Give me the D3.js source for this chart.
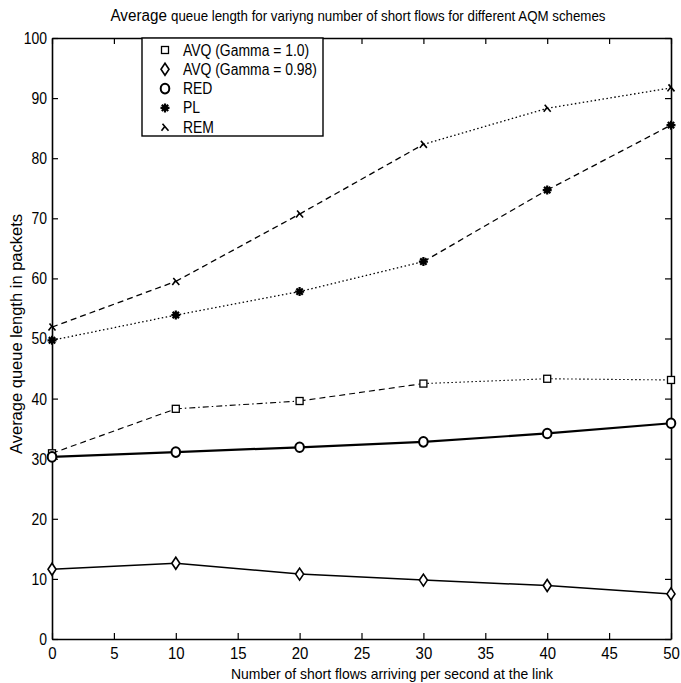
<!DOCTYPE html>
<html>
<head>
<meta charset="utf-8">
<script src="https://cdn.jsdelivr.net/npm/d3@7"></script>
<style>
  body { margin: 0; background: #fff; }
  svg { display: block; }
  text { font-family: "Liberation Sans", Arial, sans-serif; fill: #000; }
</style>
</head>
<body>
<svg id="chart" width="681" height="683"></svg>
<script>
// x values: short flows arriving per second
var flows = [0, 10, 20, 30, 40, 50];

// average queue length (packets) per scheme
var avqGamma10 = [30.9, 38.3, 39.6, 42.5, 43.3, 43.1];
var avqGamma098 = [11.6, 12.6, 10.8, 9.8, 8.9, 7.5];
var red = [30.3, 31.1, 31.9, 32.8, 34.2, 35.9];
var pl = [49.7, 53.9, 57.8, 62.8, 74.7, 85.5];
var rem = [51.9, 59.5, 70.7, 82.3, 88.3, 91.7];

var xTicks = [0, 5, 10, 15, 20, 25, 30, 35, 40, 45, 50];
var yTicks = [0, 10, 20, 30, 40, 50, 60, 70, 80, 90, 100];

var seriesNames = ["AVQ (Gamma = 1.0)", "AVQ (Gamma = 0.98)", "RED", "PL", "REM"];

// line style per segment (the scanned figure changes dash style along a line)
var DASH = "6,4", DOT = "1.5,2.5", DASHDOT = "6,3,1.5,3", SOLID = null;
var styles = {
  "AVQ (Gamma = 1.0)": { width: 1.1, segs: [DASH, DASHDOT, DASH, DOT, DOT], marker: "square" },
  "AVQ (Gamma = 0.98)": { width: 1.5, segs: [SOLID, SOLID, SOLID, SOLID, SOLID], marker: "diamond" },
  "RED": { width: 2.2, segs: [SOLID, SOLID, SOLID, SOLID, SOLID], marker: "circle" },
  "PL": { width: 1.3, segs: [DOT, DOT, DOT, DASH, DASH], marker: "star" },
  "REM": { width: 1.3, segs: [DASH, DASH, DASH, DOT, DOT], marker: "rem" }
};

var values = [avqGamma10, avqGamma098, red, pl, rem];

var margin = { left: 52, right: 10, top: 38, bottom: 44 };
var width = 681, height = 683;
var svg = d3.select("#chart");

var x = d3.scaleLinear().domain([0, 50]).range([margin.left, width - margin.right]);
var y = d3.scaleLinear().domain([0, 100]).range([height - margin.bottom, margin.top]);

// squeeze a text horizontally (the original uses a narrow Helvetica)
function condense(sel, k) {
  sel.each(function () {
    var len = this.getComputedTextLength();
    d3.select(this).attr("textLength", len * k).attr("lengthAdjust", "spacingAndGlyphs");
  });
}

// axes with inward ticks on all four sides
function styleAxis(g) {
  g.selectAll("path.domain").attr("stroke", "#000").attr("stroke-width", 1.6);
  g.selectAll(".tick line").attr("stroke", "#000").attr("stroke-width", 1.2);
  g.selectAll(".tick text").style("font-size", "17px").attr("font-family", null).attr("fill", "#000");
}

var xAxisG = svg.append("g")
  .attr("transform", "translate(0," + y(0) + ")")
  .call(d3.axisBottom(x).tickValues(xTicks).tickSizeInner(-6).tickSizeOuter(0).tickPadding(8))
  .call(styleAxis);

svg.append("g")
  .attr("transform", "translate(0," + y(100) + ")")
  .call(d3.axisTop(x).tickValues(xTicks).tickSizeInner(-6).tickSizeOuter(0).tickFormat(""))
  .call(styleAxis);

var yAxisG = svg.append("g")
  .attr("transform", "translate(" + x(0) + ",0)")
  .call(d3.axisLeft(y).tickValues(yTicks).tickSizeInner(-6).tickSizeOuter(0).tickPadding(5))
  .call(styleAxis);

svg.append("g")
  .attr("transform", "translate(" + x(50) + ",0)")
  .call(d3.axisRight(y).tickValues(yTicks).tickSizeInner(-6).tickSizeOuter(0).tickFormat(""))
  .call(styleAxis);

condense(xAxisG.selectAll(".tick text"), 0.88);
condense(yAxisG.selectAll(".tick text"), 0.82);

// marker drawing
function drawMarker(g, type, cx, cy) {
  if (type === "square") {
    g.append("rect").attr("x", cx - 3.5).attr("y", cy - 3.5).attr("width", 7).attr("height", 7)
      .attr("fill", "#fff").attr("stroke", "#000").attr("stroke-width", 1.3);
  } else if (type === "diamond") {
    g.append("path").attr("d", "M" + cx + "," + (cy - 6) + "L" + (cx + 4) + "," + cy + "L" + cx + "," + (cy + 6) + "L" + (cx - 4) + "," + cy + "Z")
      .attr("fill", "#fff").attr("stroke", "#000").attr("stroke-width", 1.6);
  } else if (type === "circle") {
    g.append("ellipse").attr("cx", cx).attr("cy", cy).attr("rx", 4.3).attr("ry", 4.8)
      .attr("fill", "#fff").attr("stroke", "#000").attr("stroke-width", 2);
  } else if (type === "star") {
    var d = "";
    for (var i = 0; i < 4; i++) {
      var a = i * Math.PI / 4;
      d += "M" + (cx - 4.5 * Math.cos(a)) + "," + (cy - 4.5 * Math.sin(a)) + "L" + (cx + 4.5 * Math.cos(a)) + "," + (cy + 4.5 * Math.sin(a));
    }
    g.append("path").attr("d", d).attr("stroke", "#000").attr("stroke-width", 2.2);
    g.append("circle").attr("cx", cx).attr("cy", cy).attr("r", 2.2).attr("fill", "#000");
  } else if (type === "rem") {
    g.append("path")
      .attr("d", "M" + (cx - 3.5) + "," + (cy + 3.5) + "L" + cx + "," + (cy - 1) + "M" + (cx - 2.5) + "," + (cy - 3.5) + "L" + (cx + 3.5) + "," + (cy + 3.5))
      .attr("stroke", "#000").attr("stroke-width", 1.6).attr("fill", "none");
  }
}

// lines and markers
var plot = svg.append("g");
seriesNames.forEach(function (name, si) {
  var st = styles[name];
  var vals = values[si];
  for (var i = 0; i < flows.length - 1; i++) {
    var seg = plot.append("line")
      .attr("x1", x(flows[i])).attr("y1", y(vals[i]))
      .attr("x2", x(flows[i + 1])).attr("y2", y(vals[i + 1]))
      .attr("stroke", "#000").attr("stroke-width", st.width);
    if (st.segs[i]) seg.attr("stroke-dasharray", st.segs[i]);
  }
  var mg = plot.append("g");
  flows.forEach(function (f, i) { drawMarker(mg, st.marker, x(f), y(vals[i])); });
});

// legend
var legend = svg.append("g");
legend.append("rect").attr("x", 142).attr("y", 38).attr("width", 181).attr("height", 98)
  .attr("fill", "#fff").attr("stroke", "#000").attr("stroke-width", 1.4);
seriesNames.forEach(function (name, i) {
  var ly = 50 + i * 19.3;
  drawMarker(legend, styles[name].marker, 165, ly);
  legend.append("text").attr("x", 183).attr("y", ly + 5.5).style("font-size", "16px").text(name);
});
condense(legend.selectAll("text"), 0.87);

// title
var title = svg.append("text").attr("x", 358).attr("y", 21).attr("text-anchor", "middle");
title.append("tspan").style("font-size", "16px").text("Average ");
title.append("tspan").style("font-size", "14px").text("queue length for variyng number of short flows for different AQM schemes");
title.attr("textLength", 495).attr("lengthAdjust", "spacingAndGlyphs");

// axis labels
svg.append("text").attr("x", 392).attr("y", 679).attr("text-anchor", "middle")
  .style("font-size", "15px").attr("textLength", 322).attr("lengthAdjust", "spacingAndGlyphs")
  .text("Number of short flows arriving per second at the link");

svg.append("text").attr("transform", "translate(22," + 334 + ") rotate(-90)").attr("text-anchor", "middle")
  .style("font-size", "17px").attr("textLength", 240).attr("lengthAdjust", "spacingAndGlyphs")
  .text("Average queue length in packets");
</script>
</body>
</html>
